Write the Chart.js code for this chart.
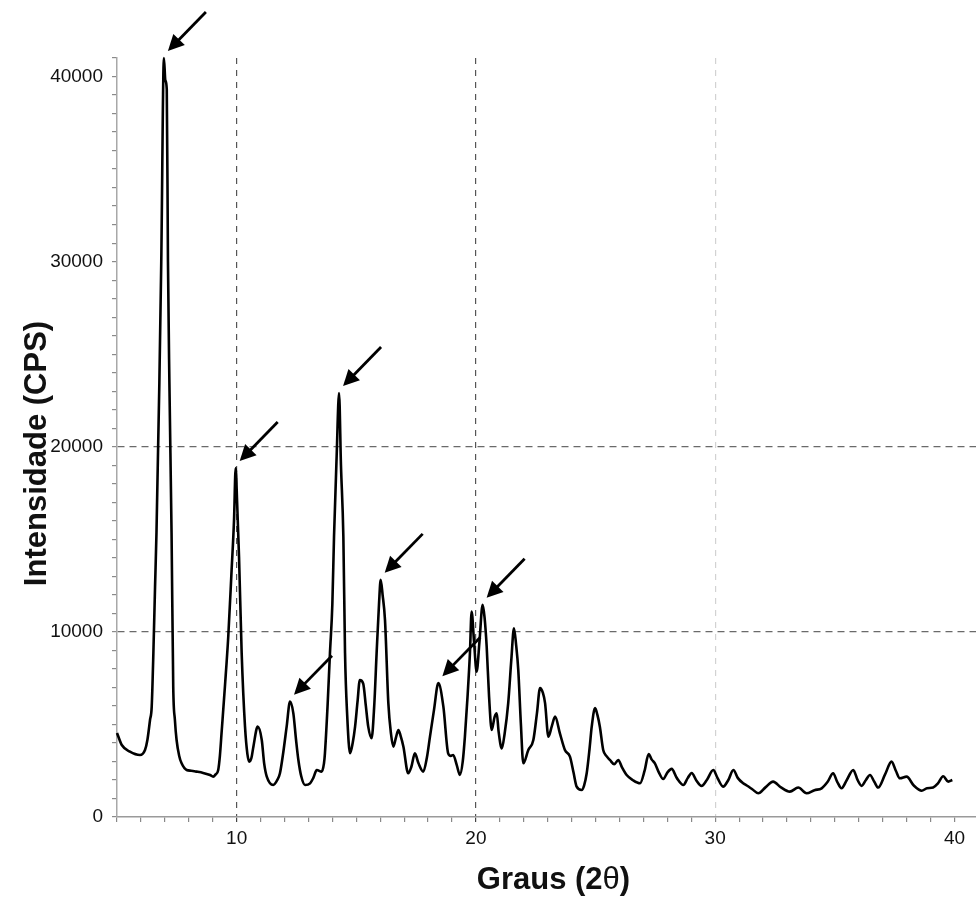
<!DOCTYPE html>
<html>
<head>
<meta charset="utf-8">
<title>Difratograma</title>
<script src="https://cdn.jsdelivr.net/npm/chart.js@4.4.1/dist/chart.umd.min.js"></script>
<style>
  html, body { margin: 0; padding: 0; background: #fff; }
  #wrap { width: 976px; height: 900px; }
</style>
</head>
<body>
<div id="wrap"><canvas id="xrd" width="976" height="900"></canvas></div>
<script>
// Diffraction angle (2θ, degrees) and intensity (CPS) of the measured pattern
const angles = [
  5.00, 5.20, 5.54, 5.96, 6.17, 6.27, 6.38, 6.45, 6.52, 6.59, 6.65, 6.77, 6.85, 6.96, 7.02, 7.08,
  7.13, 7.19, 7.28, 7.35, 7.42, 7.49, 7.60, 7.70, 7.91, 8.10, 8.33, 8.60, 8.89, 9.02, 9.12, 9.23,
  9.30, 9.37, 9.51, 9.65, 9.79, 9.89, 9.96, 10.02, 10.10, 10.21, 10.35, 10.45, 10.53, 10.62, 10.70, 10.88,
  11.05, 11.15, 11.26, 11.53, 11.70, 11.81, 11.95, 12.09, 12.23, 12.37, 12.48, 12.58, 12.70, 12.86, 13.07, 13.20,
  13.35, 13.55, 13.65, 13.69, 13.80, 13.90, 14.00, 14.07, 14.18, 14.28, 14.36, 14.46, 14.53, 14.62, 14.74, 14.85,
  14.95, 15.05, 15.15, 15.29, 15.40, 15.50, 15.64, 15.75, 15.85, 15.95, 16.02, 16.10, 16.20, 16.34, 16.45, 16.55,
  16.66, 16.76, 16.85, 16.97, 17.17, 17.30, 17.45, 17.60, 17.80, 17.95, 18.08, 18.25, 18.43, 18.64, 18.84, 18.95,
  19.05, 19.20, 19.33, 19.45, 19.54, 19.65, 19.75, 19.82, 19.92, 20.03, 20.15, 20.28, 20.36, 20.45, 20.55, 20.66,
  20.78, 20.87, 20.95, 21.08, 21.20, 21.35, 21.48, 21.59, 21.68, 21.77, 21.88, 21.98, 22.19, 22.40, 22.55, 22.68,
  22.80, 22.89, 23.03, 23.17, 23.31, 23.51, 23.72, 23.93, 24.08, 24.21, 24.42, 24.52, 24.63, 24.75, 24.84, 24.98,
  25.08, 25.18, 25.32, 25.45, 25.60, 25.78, 25.95, 26.10, 26.30, 26.55, 26.86, 27.05, 27.22, 27.35, 27.48, 27.65,
  27.83, 28.00, 28.18, 28.40, 28.67, 28.85, 29.02, 29.20, 29.43, 29.65, 29.92, 30.10, 30.33, 30.55, 30.76, 30.95,
  31.17, 31.32, 31.55, 31.80, 32.10, 32.42, 32.75, 33.12, 33.47, 33.82, 34.15, 34.45, 34.70, 34.93, 35.10, 35.28,
  35.50, 35.77, 35.95, 36.12, 36.30, 36.47, 36.65, 36.81, 37.10, 37.37, 37.55, 37.72, 38.00, 38.30, 38.63, 38.85,
  39.11, 39.30, 39.53, 39.74, 39.91
];
const counts = [
  4540, 3890, 3530, 3350, 3620, 4160, 5240, 5950, 8850, 12430, 15350, 23440, 30000, 41000, 39800, 39300,
  30000, 23440, 15350, 7040, 5240, 4160, 3300, 2900, 2540, 2500, 2450, 2380, 2270, 2180, 2300, 2540,
  3300, 4540, 7040, 9750, 13350, 16000, 18850, 17000, 14060, 8860, 4880, 3400, 2990, 3200, 3800, 4880,
  4160, 2900, 2180, 1730, 2000, 2360, 3500, 4880, 6230, 5600, 4200, 3080, 2200, 1730, 1820, 2100,
  2540, 2450, 2900, 3440, 6000, 8850, 11500, 15150, 19500, 22900, 19000, 15150, 8860, 5500, 3440, 4000,
  4880, 6200, 7400, 7210, 6000, 4880, 4250, 6000, 8850, 11500, 12810, 12000, 10650, 6150, 4500, 3800,
  4300, 4700, 4400, 3800, 2360, 2700, 3440, 2900, 2450, 3200, 4340, 5800, 7230, 5960, 3440, 3300,
  3350, 2800, 2270, 3000, 4340, 6500, 8850, 11100, 9500, 7850, 9500, 11460, 10800, 9200, 6500, 4700,
  5400, 5600, 4600, 3700, 4500, 6150, 8500, 10200, 9300, 7950, 5000, 2900, 3620, 4160, 5600, 6960,
  6700, 6150, 4340, 4900, 5420, 4520, 3620, 3260, 2400, 1640, 1460, 1700, 2360, 3700, 4880, 5880,
  5500, 4880, 3620, 3300, 3080, 2850, 3080, 2700, 2270, 2000, 1820, 2500, 3400, 3100, 2900, 2400,
  2050, 2400, 2600, 2100, 1730, 2100, 2380, 2000, 1680, 2000, 2540, 2100, 1640, 2000, 2540, 2100,
  1820, 1700, 1500, 1280, 1600, 1910, 1600, 1370, 1590, 1280, 1450, 1550, 1900, 2360, 1900, 1550,
  2000, 2540, 2000, 1680, 2000, 2270, 1900, 1590, 2300, 2990, 2500, 2090, 2180, 1700, 1420, 1550,
  1590, 1800, 2200, 1910, 2000
];

// Labelled ticks on each axis
const xTickLabels = [10, 20, 30, 40];
const yTickLabels = [0, 10000, 20000, 30000, 40000];

// Axis titles
const xTitleParts = ['Graus (2', 'θ', ')'];
const yTitle = 'Intensidade (CPS)';

// Reflections marked with an arrow (2θ of the peak maximum)
const markedPeaks = [6.96, 9.96, 12.23, 14.28, 16.02, 18.43, 20.28];

const tickFont = { family: '"Liberation Sans", Arial, Helvetica, sans-serif', size: 19 };
const TITLE_BOLD = 'bold 31px "Liberation Sans", Arial, Helvetica, sans-serif';
const TITLE_GREEK = '31px "Liberation Sans", Arial, Helvetica, sans-serif';

// Arrows pointing at the marked peaks, drawn over the pattern
const peakArrows = {
  id: 'peakArrows',
  afterDatasetsDraw(chart) {
    const { ctx, scales: { x, y } } = chart;
    ctx.save();
    ctx.strokeStyle = '#000';
    ctx.fillStyle = '#000';
    ctx.lineWidth = 2.8;
    ctx.lineCap = 'butt';
    markedPeaks.forEach(a => {
      const i = angles.indexOf(a);
      const px = x.getPixelForValue(a);
      const py = y.getPixelForValue(counts[i]);
      const tx = px + 4, ty = py - 7;          // arrow tip, just above-right of the peak
      const ex = tx + 38, ey = ty - 39;        // tail end
      const ang = Math.atan2(ty - ey, tx - ex);
      const headLen = 16, headHalf = 8;
      const bx = tx - headLen * Math.cos(ang);
      const by = ty - headLen * Math.sin(ang);
      ctx.beginPath();
      ctx.moveTo(ex, ey);
      ctx.lineTo(bx + 2 * Math.cos(ang), by + 2 * Math.sin(ang));
      ctx.stroke();
      ctx.beginPath();
      ctx.moveTo(tx, ty);
      ctx.lineTo(bx + headHalf * Math.sin(ang), by - headHalf * Math.cos(ang));
      ctx.lineTo(bx - headHalf * Math.sin(ang), by + headHalf * Math.cos(ang));
      ctx.closePath();
      ctx.fill();
    });
    ctx.restore();
  }
};

// Axis titles: bold text, with the Greek theta set in regular weight
const axisTitles = {
  id: 'axisTitles',
  afterDraw(chart) {
    const { ctx, chartArea } = chart;
    ctx.save();
    ctx.fillStyle = '#111';
    ctx.textBaseline = 'middle';
    ctx.textAlign = 'left';

    // x title, below the tick labels
    const fonts = [TITLE_BOLD, TITLE_GREEK, TITLE_BOLD];
    const widths = xTitleParts.map((t, k) => { ctx.font = fonts[k]; return ctx.measureText(t).width; });
    const total = widths.reduce((s, w) => s + w, 0);
    let cx = (chartArea.left + chartArea.right) / 2 + 7 - total / 2;
    const cy = chartArea.bottom + 63;
    xTitleParts.forEach((t, k) => {
      ctx.font = fonts[k];
      ctx.fillText(t, cx, cy);
      cx += widths[k];
    });

    // y title, rotated, left of the tick labels
    ctx.font = TITLE_BOLD;
    ctx.textAlign = 'center';
    ctx.translate(chartArea.left - 80, (chartArea.top + chartArea.bottom) / 2 + 16);
    ctx.rotate(-Math.PI / 2);
    ctx.fillText(yTitle, 0, 0);
    ctx.restore();
  }
};

const whiteBackground = {
  id: 'whiteBackground',
  beforeDraw(chart) {
    const { ctx, width, height } = chart;
    ctx.save();
    ctx.fillStyle = '#fff';
    ctx.fillRect(0, 0, width, height);
    ctx.restore();
  }
};

new Chart(document.getElementById('xrd'), {
  type: 'line',
  data: {
    datasets: [{
      label: 'Intensidade',
      data: angles.map((a, i) => ({ x: a, y: counts[i] })),
      borderColor: '#000',
      borderWidth: 2.6,
      pointRadius: 0,
      fill: false,
      cubicInterpolationMode: 'monotone',
      clip: 4
    }]
  },
  options: {
    responsive: false,
    animation: false,
    devicePixelRatio: 1,
    layout: { padding: { top: 58, right: 0, bottom: 0, left: 0 } },
    plugins: {
      legend: { display: false },
      tooltip: { enabled: false }
    },
    scales: {
      x: {
        type: 'linear',
        min: 5,
        max: 40.9,
        afterFit(scale) { scale.height = 83; },
        ticks: {
          stepSize: 1,
          autoSkip: false,
          includeBounds: false,
          maxRotation: 0,
          padding: 5,
          color: '#111',
          font: tickFont,
          callback: v => (xTickLabels.includes(v) ? String(v) : '')
        },
        grid: {
          color: ctx => {
            const v = ctx.tick && ctx.tick.value;
            if (v === 10 || v === 20) return '#555';
            if (v === 30) return '#d2d2d2';
            return 'rgba(0,0,0,0)';
          },
          lineWidth: 1.2,
          tickColor: ctx => (ctx.tick && (ctx.tick.value === 10 || ctx.tick.value === 20) ? '#444' : '#888'),
          tickLength: 5,
          tickWidth: 1.2
        },
        border: { display: true, color: '#9a9a9a', width: 1.5, dash: [6, 6] },
        title: { display: false }
      },
      y: {
        type: 'linear',
        min: 0,
        max: 41000,
        afterFit(scale) { scale.width = 117; },
        ticks: {
          stepSize: 1000,
          autoSkip: false,
          includeBounds: false,
          padding: 9,
          color: '#111',
          font: tickFont,
          callback: v => (yTickLabels.includes(v) ? String(v) : '')
        },
        grid: {
          color: ctx => {
            const v = ctx.tick && ctx.tick.value;
            return (v === 10000 || v === 20000) ? '#6a6a6a' : 'rgba(0,0,0,0)';
          },
          lineWidth: 1.2,
          tickColor: '#8a8a8a',
          tickLength: 5,
          tickWidth: 1.2
        },
        border: { display: true, color: '#a8a8a8', width: 1.5, dash: [7, 5] },
        title: { display: false }
      }
    }
  },
  plugins: [whiteBackground, peakArrows, axisTitles]
});
</script>
</body>
</html>
